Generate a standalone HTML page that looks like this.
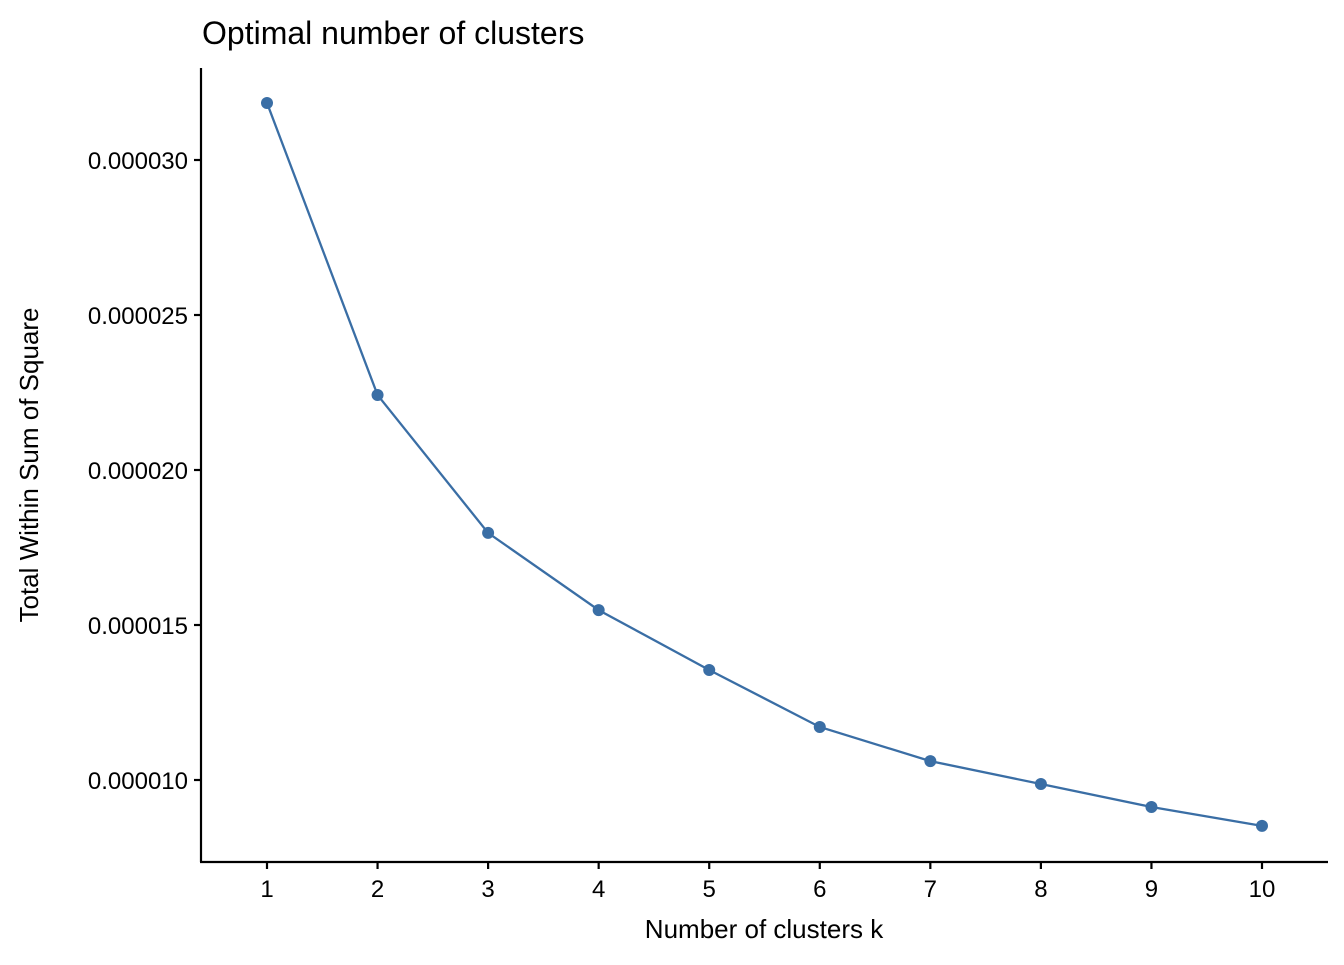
<!DOCTYPE html>
<html><head><meta charset="utf-8"><style>
body{margin:0;background:#fff}
svg text{font-family:"Liberation Sans",Arial,sans-serif;fill:#000}
</style></head><body>
<svg id="chart" width="1344" height="960" xmlns="http://www.w3.org/2000/svg">
<text x="202" y="44" font-size="32">Optimal number of clusters</text>
<g id="axes"></g>
<g id="series"></g>
<text x="764" y="938" font-size="26" text-anchor="middle">Number of clusters k</text>
<text transform="translate(38,465) rotate(-90)" font-size="26" text-anchor="middle">Total Within Sum of Square</text>
</svg>
<script>
const categories=[1,2,3,4,5,6,7,8,9,10];
const wss=[31.84e-6,22.42e-6,17.97e-6,15.48e-6,13.55e-6,11.71e-6,10.61e-6,9.87e-6,9.13e-6,8.52e-6];
const yTicks=[10e-6,15e-6,20e-6,25e-6,30e-6];
const yTickLabels=["0.000010","0.000015","0.000020","0.000025","0.000030"];
const NS="http://www.w3.org/2000/svg";
function x(k){return 267+(k-1)*(1262-267)/9;}
function y(v){return 160+(30e-6-v)*(155/5e-6);}
function mk(tag,attrs,parent){const e=document.createElementNS(NS,tag);for(const k in attrs)e.setAttribute(k,attrs[k]);parent.appendChild(e);return e;}
const axes=document.getElementById('axes'),series=document.getElementById('series');
let l=mk('line',{x1:201,y1:68,x2:201,y2:862,stroke:'#000','stroke-width':2.2},axes);


l=mk('line',{x1:200,y1:862,x2:1328,y2:862,stroke:'#000','stroke-width':2.2},axes);


yTicks.forEach((v,i)=>{
 const t=mk('line',{x1:194,x2:201,y1:y(v),y2:y(v),stroke:'#000','stroke-width':2.2},axes);
 
 
 const tx=mk('text',{x:188,y:y(v)+9,'font-size':24,'text-anchor':'end'},axes);
 tx.textContent=yTickLabels[i];
 
 
});
categories.forEach(k=>{
 const t=mk('line',{x1:x(k),x2:x(k),y1:862,y2:869,stroke:'#000','stroke-width':2.2},axes);
 
 
 const tx=mk('text',{x:x(k),y:897,'font-size':24,'text-anchor':'middle'},axes);
 tx.textContent=k;
 
 
});
const pl=mk('polyline',{points:categories.map((k,i)=>x(k)+','+y(wss[i])).join(' '),fill:'none',stroke:'#3a6ea5','stroke-width':2.3},series);


categories.forEach((k,i)=>{
 const c=mk('circle',{cx:x(k),cy:y(wss[i]),r:6,fill:'#3a6ea5'},series);
 
 
});
</script>
</body></html>
